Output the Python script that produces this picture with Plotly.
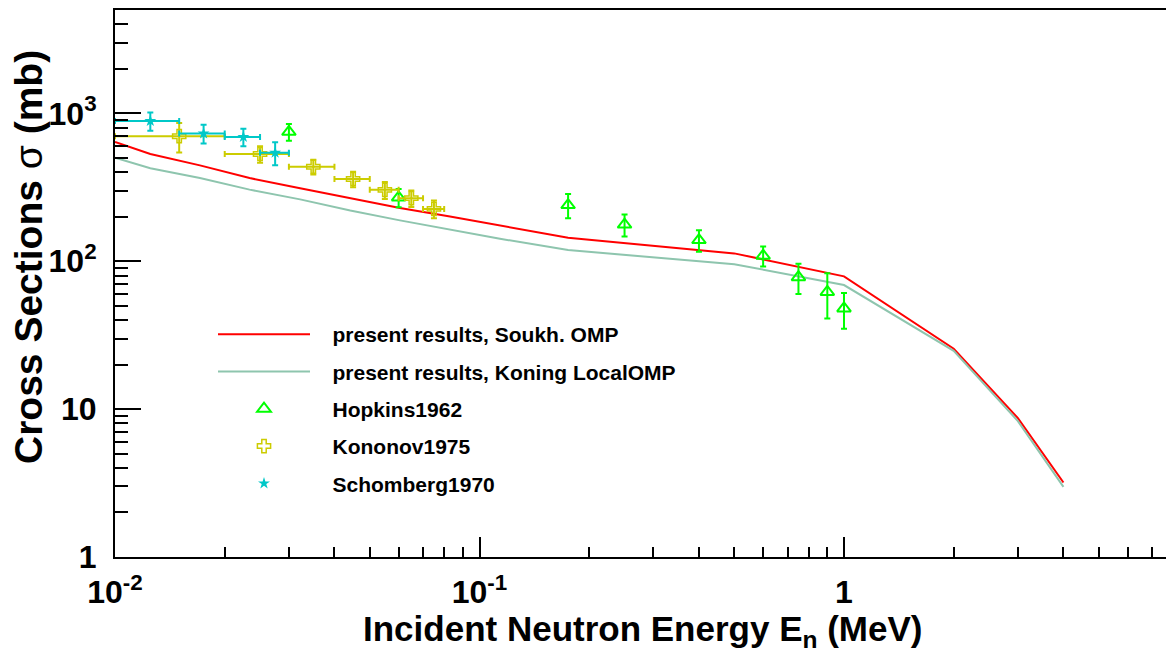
import numpy as np
import plotly.graph_objects as go

# ---------------- data ----------------
# calculated curves
calc_E = [0.01, 0.0125, 0.0171, 0.0234, 0.0322, 0.0442, 0.0605, 0.083, 0.1138, 0.175, 0.5, 1.0, 2.0, 3.0, 4.0]
soukh_xs = [641, 531, 445, 365, 312, 267, 229, 201, 174, 144, 113, 79, 25.6, 8.7, 3.19]
koning_xs = [501, 426, 365, 305, 262, 220, 189, 164, 142, 119, 95.5, 69, 24.8, 8.3, 2.98]

# Hopkins1962
hop_E = [0.03, 0.06, 0.175, 0.25, 0.4, 0.6, 0.75, 0.9, 1.0]
hop_xs = [750, 270, 240, 177, 139, 109, 78, 62, 48]
hop_err = [97, 38, 45, 30, 23, 17, 18, 21, 13]

# Kononov1975
kon_E = [0.015, 0.025, 0.035, 0.045, 0.055, 0.065, 0.075]
kon_dE = [0.005, 0.005, 0.005, 0.005, 0.005, 0.005, 0.005]
kon_xs = [701, 531, 436, 360, 304, 267, 226]
kon_err = [158, 68, 50, 43, 40, 34, 31]

# Schomberg1970
sch_E = [0.0125, 0.0175, 0.0225, 0.0275]
sch_dE = [0.0025, 0.0025, 0.0025, 0.0025]
sch_xs = [888, 731, 693, 542]
sch_err = [124, 106, 94, 97]

names = ["present results, Soukh. OMP", "present results, Koning LocalOMP",
         "Hopkins1962", "Kononov1975", "Schomberg1970"]

x_major = [0.01, 0.1, 1]
x_major_text = ["10<sup>-2</sup>", "10<sup>-1</sup>", "1"]
y_major = [1, 10, 100, 1000]
y_major_text = ["1", "10", "10<sup>2</sup>", "10<sup>3</sup>"]

# ---------------- styling ----------------
FONT = "Liberation Sans, Arial, Helvetica, sans-serif"
RED = "#ff0000"
KON_LINE = "#8ec5ae"
GREEN = "#00ff00"
YELLOW = "#cccc00"
CYAN = "#00c8c8"
PAD = "\u00a0" * 3

W, H = 1166, 660
L, R, T, B = 115, 0, 10, 103
plot_w = W - L - R
plot_h = H - T - B
x_lo, x_hi = -2.0, -2.0 + plot_w / 364.5
y_lo, y_hi = 0.0, np.log10(5000)

fig = go.Figure()

fig.add_trace(go.Scatter(x=calc_E, y=soukh_xs, mode="lines", name=PAD + names[0],
                         legendgroup="g1", line=dict(color=RED, width=2)))
fig.add_trace(go.Scatter(x=calc_E, y=koning_xs, mode="lines", name=PAD + names[1],
                         legendgroup="g2", line=dict(color=KON_LINE, width=2)))
fig.add_trace(go.Scatter(x=hop_E, y=hop_xs, mode="markers", name=PAD + names[2],
                         legendgroup="g3",
                         marker=dict(symbol="triangle-up-open", size=12, color=GREEN,
                                     line=dict(width=2, color=GREEN)),
                         error_y=dict(type="data", array=hop_err, color=GREEN,
                                      thickness=2, width=3)))
fig.add_trace(go.Scatter(x=kon_E, y=kon_xs, mode="markers", name=PAD + names[3],
                         legendgroup="g4",
                         marker=dict(symbol="cross-open", size=11, color=YELLOW,
                                     line=dict(width=1.5, color=YELLOW)),
                         error_y=dict(type="data", array=kon_err, color=YELLOW,
                                      thickness=2, width=3),
                         error_x=dict(type="data", array=kon_dE, color=YELLOW,
                                      thickness=2, width=3)))
fig.add_trace(go.Scatter(x=sch_E, y=sch_xs, mode="markers", name=PAD + names[4],
                         legendgroup="g5",
                         marker=dict(symbol="star", size=9, color=CYAN,
                                     line=dict(width=0)),
                         error_y=dict(type="data", array=sch_err, color=CYAN,
                                      thickness=2, width=3),
                         error_x=dict(type="data", array=sch_dE, color=CYAN,
                                      thickness=2, width=3)))

x_minor = [k * 10.0 ** p for p in (-2, -1, 0) for k in range(2, 10)]
y_minor = [k * 10.0 ** p for p in (0, 1, 2, 3) for k in range(2, 10)]

tickfont = dict(family=FONT, size=32, color="black", weight="bold")

fig.update_xaxes(type="log", range=[x_lo, x_hi], showgrid=False, zeroline=False,
                 showline=True, linecolor="black", linewidth=2, mirror=True,
                 ticks="inside", ticklen=20, tickwidth=2, tickcolor="black",
                 tickmode="array", tickvals=x_major, ticktext=x_major_text,
                 tickfont=tickfont, ticklabelstandoff=6,
                 minor=dict(tickmode="array", tickvals=x_minor, ticks="inside",
                            ticklen=10, tickwidth=1.5, tickcolor="black", showgrid=False))
fig.update_yaxes(type="log", range=[y_lo, y_hi], showgrid=False, zeroline=False,
                 showline=True, linecolor="black", linewidth=2, mirror=False,
                 ticks="inside", ticklen=26, tickwidth=2, tickcolor="black",
                 tickmode="array", tickvals=y_major, ticktext=y_major_text,
                 tickfont=tickfont, ticklabelstandoff=10,
                 minor=dict(tickmode="array", tickvals=y_minor, ticks="inside",
                            ticklen=13, tickwidth=1.5, tickcolor="black", showgrid=False))

def px_x(px):
    return (px - L) / plot_w

def px_y(py):
    return (H - B - py) / plot_h

fig.add_annotation(text="Cross Sections <span style='font-weight:normal'>σ</span> (mb)",
                   xref="paper", yref="paper", x=px_x(28), y=px_y(257),
                   xanchor="center", yanchor="middle", textangle=-90, showarrow=False,
                   font=dict(family=FONT, size=39, color="black", weight="bold"))
fig.add_annotation(text="Incident Neutron Energy E<sub>n</sub> (MeV)",
                   xref="paper", yref="paper", x=px_x(642), y=px_y(631),
                   xanchor="center", yanchor="middle", showarrow=False,
                   font=dict(family=FONT, size=35, color="black", weight="bold"))

fig.update_layout(
    width=W, height=H,
    margin=dict(l=L, r=R, t=T, b=B),
    paper_bgcolor="white", plot_bgcolor="white",
    showlegend=True,
    legend=dict(x=px_x(213), y=px_y(314), xanchor="left", yanchor="top",
                bgcolor="rgba(0,0,0,0)", borderwidth=0,
                font=dict(family=FONT, size=21, color="black", weight="bold"),
                itemwidth=92, traceorder="grouped", tracegroupgap=7),
)

fig.write_html("out.html")
